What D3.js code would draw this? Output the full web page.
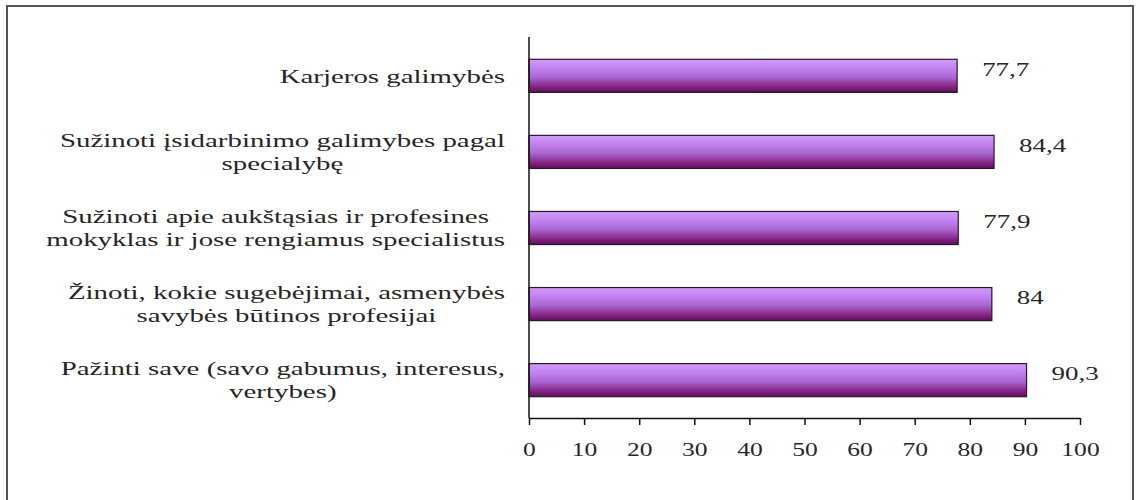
<!DOCTYPE html>
<head>
  <meta charset="utf-8">
  <script src="https://d3js.org/d3.v7.min.js"></script>
  <style>
    body { margin: 0; background: #fff; }
    svg { display: block; }
    text { font-family: "Liberation Serif", "Times New Roman", serif; fill: #262626; }
  </style>
</head>

<body>
  <svg width="1139" height="500"></svg>

  <script>
    // chart data
    const categories = [
      ['Karjeros galimybės'],
      ['Sužinoti įsidarbinimo galimybes pagal', 'specialybę'],
      ['Sužinoti apie aukštąsias ir profesines', 'mokyklas ir jose rengiamus specialistus'],
      ['Žinoti, kokie sugebėjimai, asmenybės', 'savybės būtinos profesijai'],
      ['Pažinti save (savo gabumus, interesus,', 'vertybes)']
    ];
    const values = [77.7, 84.4, 77.9, 84, 90.3];
    const valueLabels = ['77,7', '84,4', '77,9', '84', '90,3'];
    const xTicks = [0, 10, 20, 30, 40, 50, 60, 70, 80, 90, 100];

    // the source picture is stretched sideways, so text gets a wider scale
    const stretch = 1.42;
    const catStretch = 1.52;
    const svg = d3.select('svg');

    // outer frame
    svg.append('rect')
      .attr('x', 7).attr('y', 6)
      .attr('width', 1126).attr('height', 520)
      .attr('fill', 'none')
      .attr('stroke', '#555')
      .attr('stroke-width', 2);

    const x = d3.scaleLinear().domain([0, 100]).range([529, 1080]);
    const y = d3.scaleBand()
      .domain(d3.range(values.length))
      .range([38, 418])
      .paddingInner(0.565)
      .paddingOuter(0.28);

    // bar gradient
    const grad = svg.append('defs').append('linearGradient')
      .attr('id', 'barGrad')
      .attr('x1', 0).attr('y1', 0).attr('x2', 0).attr('y2', 1);
    [['0%', '#d49cf6'], ['25%', '#c384f2'], ['55%', '#a865cf'], ['80%', '#8a2a8c'], ['100%', '#5e0d58']]
      .forEach(s => grad.append('stop').attr('offset', s[0]).attr('stop-color', s[1]));

    svg.selectAll('rect.bar')
      .data(values)
      .enter().append('rect')
      .attr('class', 'bar')
      .attr('x', x(0))
      .attr('y', (d, i) => y(i))
      .attr('width', d => x(d) - x(0))
      .attr('height', y.bandwidth())
      .attr('fill', 'url(#barGrad)')
      .attr('stroke', '#2b1630')
      .attr('stroke-width', 1.2);

    // value labels
    svg.selectAll('text.val')
      .data(values)
      .enter().append('text')
      .attr('class', 'val')
      .attr('transform', (d, i) => `translate(${x(d) + 25},${y(i) + y.bandwidth() / 2 - 7})scale(${stretch},1)`)
      .attr('dy', '0.35em')
      .style('font-size', '19px')
      .text((d, i) => valueLabels[i]);

    // category labels: lines centred inside a right-aligned block
    const lineH = 23;
    categories.forEach((lines, i) => {
      const g = svg.append('g');
      const cy = y(i) + y.bandwidth() / 2;
      const texts = lines.map(l => g.append('text')
        .style('font-size', '19px')
        .attr('text-anchor', 'middle')
        .attr('dy', '0.35em')
        .text(l));
      const widest = d3.max(texts, t => t.node().getComputedTextLength()) * catStretch;
      const cx = 505 - widest / 2;
      texts.forEach((t, j) => {
        const ly = cy + (j - (lines.length - 1) / 2) * lineH;
        t.attr('transform', `translate(${cx},${ly})scale(${catStretch},1)`);
      });
    });

    // x axis
    const xAxis = svg.append('g')
      .attr('transform', 'translate(0,418)')
      .call(d3.axisBottom(x).tickValues(xTicks).tickSize(7).tickSizeOuter(0).tickFormat(d3.format('d')));
    xAxis.select('.domain').attr('stroke', '#111').attr('stroke-width', 1.5);
    xAxis.selectAll('.tick line').attr('stroke', '#111').attr('stroke-width', 1.5);
    xAxis.selectAll('.tick text')
      .attr('y', 0).attr('dy', 0)
      .attr('transform', `translate(0,38)scale(${stretch},1)`)
      .style('font-size', '18px')
      .style('font-family', '"Liberation Serif", serif')
      .attr('fill', '#262626');

    // y axis line
    svg.append('g')
      .attr('transform', `translate(${x(0)},0)`)
      .call(d3.axisLeft(y).tickSize(0).tickFormat(''))
      .call(g => g.select('.domain').attr('d', 'M0,37V418').attr('stroke', '#111').attr('stroke-width', 1.5));
  </script>
</body>
